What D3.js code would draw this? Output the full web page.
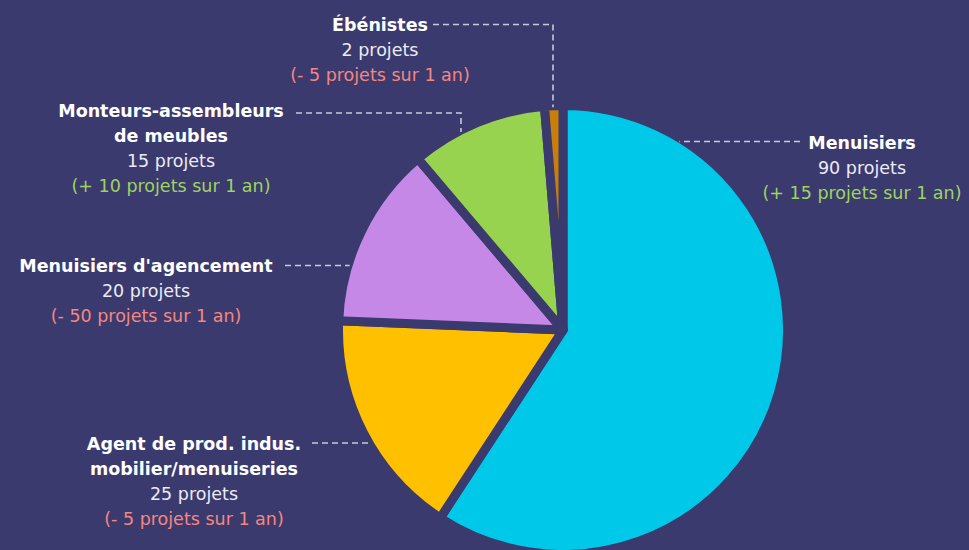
<!DOCTYPE html>
<html>
<head>
<meta charset="utf-8">
<script src="https://cdn.jsdelivr.net/npm/d3@7"></script>
<style>
  body { margin: 0; background: #3b3a6f; }
  svg { display: block; }
  text { font-family: "DejaVu Sans", Lato, sans-serif; }
</style>
</head>
<body>
<div id="main"></div>
<script>
const w = 969, h = 550, bg = '#3b3a6f'

// data
const names = [['Menuisiers'], ['Agent de prod. indus.', 'mobilier/menuiseries'], ["Menuisiers d'agencement"], ['Monteurs-assembleurs', 'de meubles'], ['Ébénistes']]
const projets = [90, 25, 20, 15, 2]
const evolution = [15, -5, -50, 10, -5]
const colors = ['#00c8e9', '#ffc000', '#c688e6', '#97d34f', '#c87f0a']

// label layout: centre x of the text block, first baseline, leader start + leader height
const labelPos = [
  { x: 862, y: 149, side: 'right', lx: 800, ly: 141.5 },
  { x: 194, y: 450, side: 'left', lx: 312, ly: 443 },
  { x: 146, y: 272, side: 'left', lx: 285, ly: 265.5 },
  { x: 171, y: 117, side: 'left', lx: 296, ly: 113, vx: 461 },
  { x: 380, y: 31, side: 'left', lx: 433, ly: 24.5, vx: 553 }
]

const cx = 563, cy = 330, r = 224.5, gap = 9, lineH = 25

const svg = d3.select('#main')
  .append('svg')
  .attr('width', w)
  .attr('height', h)

svg.append('rect').attr('width', w).attr('height', h).attr('fill', bg)

const pie = d3.pie().sort(null).value(d => d)
const arcs = pie(projets)
const arc = d3.arc().innerRadius(0).outerRadius(r)

const g = svg.append('g').attr('transform', `translate(${cx},${cy})`)

g.selectAll('path')
  .data(arcs)
  .enter()
  .append('path')
  .attr('d', arc)
  .attr('fill', (d, i) => colors[i])
  .attr('stroke', bg)
  .attr('stroke-width', gap)
  .attr('stroke-linejoin', 'round')

// visible radius of the slices
const rv = r - gap / 2

// leaders
const leaders = svg.append('g')
  .attr('fill', 'none')
  .attr('stroke', '#c9c9d9')
  .attr('stroke-width', 1.6)
  .attr('stroke-dasharray', '6,4')

labelPos.forEach(p => {
  let pts
  if (p.vx !== undefined) {
    const dx = p.vx - cx
    const yEnd = cy - Math.sqrt(rv * rv - dx * dx) - 3
    pts = [[p.lx, p.ly], [p.vx, p.ly], [p.vx, yEnd]]
  } else {
    const dy = p.ly - cy
    const dx = Math.sqrt(rv * rv - dy * dy)
    const xEnd = p.side === 'right' ? cx + dx + 3 : cx - dx - 3
    pts = [[p.lx, p.ly], [xEnd, p.ly]]
  }
  leaders.append('path').attr('d', d3.line()(pts))
})

// labels
const fmt = v => (v > 0 ? '(+ ' : '(- ') + Math.abs(v) + ' projets sur 1 an)'

names.forEach((lines, i) => {
  const p = labelPos[i]
  const t = svg.append('text')
    .attr('text-anchor', 'middle')
    .attr('x', p.x)
    .attr('y', p.y)
    .style('font-size', '17.5px')
  lines.forEach((l, k) => {
    t.append('tspan')
      .attr('x', p.x)
      .attr('dy', k === 0 ? 0 : lineH)
      .attr('fill', '#ffffff')
      .attr('font-weight', 'bold')
      .text(l)
  })
  t.append('tspan')
    .attr('x', p.x)
    .attr('dy', lineH)
    .attr('fill', '#ebebf3')
    .text(projets[i] + ' projets')
  t.append('tspan')
    .attr('x', p.x)
    .attr('dy', lineH)
    .attr('fill', evolution[i] > 0 ? '#9fd35f' : '#f4877f')
    .text(fmt(evolution[i]))
})
</script>
</body>
</html>
